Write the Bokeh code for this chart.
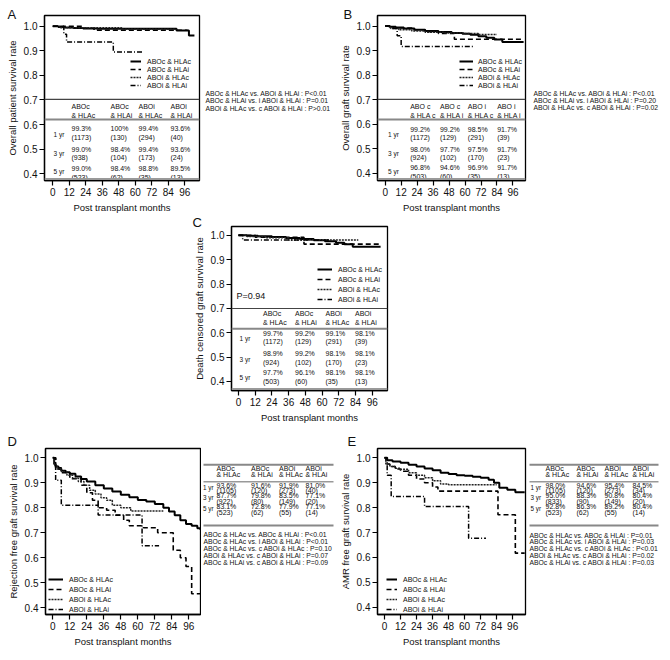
from bokeh.plotting import figure
from bokeh.models import Legend, LegendItem, Range1d, Span, FixedTicker, CustomJSTickFormatter, Label
from bokeh.layouts import row, column
from bokeh.core.properties import value
from bokeh.embed import file_html
from bokeh.resources import INLINE

FONT = "Liberation Sans"

MONTH_TICKS = [0, 12, 24, 36, 48, 60, 72, 84, 96]
SURV_TICKS = [0.4, 0.5, 0.6, 0.7, 0.8, 0.9, 1.0]
GROUP_LABELS = ["ABOc & HLAc", "ABOc & HLAi", "ABOi & HLAc", "ABOi & HLAi"]
X_TITLE = "Post transplant months"
ROW_LABELS = ["1 yr", "3 yr", "5 yr"]
HEAD_1 = ["ABOc", "ABOc", "ABOi", "ABOi"]
HEAD_2 = ["& HLAc", "& HLAi", "& HLAc", "& HLAi"]
HEAD_1_B = ["ABO c", "ABO c", "ABO i", "ABO i"]
HEAD_2_B = ["& HLA c", "& HLA i", "& HLA c", "& HLA i"]

# ---------------- Panel A : overall patient survival ----------------
A_T_CC = [0, 4, 9, 15, 22, 32, 90, 99, 103]
A_S_CC = [1.0, 0.997, 0.995, 0.993, 0.991, 0.990, 0.983, 0.963, 0.963]
A_T_CI = [0, 22, 30, 98]
A_S_CI = [1.0, 0.992, 0.984, 0.984]
A_T_IC = [0, 5, 50, 90]
A_S_IC = [1.0, 0.994, 0.988, 0.988]
A_T_II = [0, 8, 10, 44, 66]
A_S_II = [1.0, 0.968, 0.936, 0.895, 0.895]
A_PCT = [["99.3%", "100%", "99.4%", "93.6%"],
         ["99.0%", "98.4%", "99.4%", "93.6%"],
         ["99.0%", "98.4%", "98.8%", "89.5%"]]
A_N = [["(1173)", "(130)", "(294)", "(40)"],
       ["(938)", "(104)", "(173)", "(24)"],
       ["(523)", "(62)", "(35)", "(13)"]]
A_P = ["ABOc & HLAc vs. ABOi & HLAi : P<0.01",
       "ABOc & HLAi vs. i ABOi & HLAi : P=0.01",
       "ABOi & HLAc vs. c ABOi & HLAi : P>0.01"]

# ---------------- Panel B : overall graft survival ----------------
B_T_CC = [0, 3, 8, 14, 22, 30, 40, 50, 58, 64, 70, 76, 82, 88, 104]
B_S_CC = [1.0, 0.997, 0.994, 0.990, 0.985, 0.980, 0.976, 0.972, 0.968, 0.964, 0.958, 0.952, 0.945, 0.935, 0.935]
B_T_CI = [0, 6, 20, 30, 40, 52, 104]
B_S_CI = [1.0, 0.992, 0.985, 0.977, 0.970, 0.946, 0.946]
B_T_IC = [0, 4, 10, 20, 30, 44, 60, 70, 84]
B_S_IC = [1.0, 0.990, 0.985, 0.980, 0.975, 0.972, 0.969, 0.965, 0.965]
B_T_II = [0, 5, 9, 12, 66]
B_S_II = [1.0, 0.990, 0.960, 0.917, 0.917]
B_PCT = [["99.2%", "99.2%", "98.5%", "91.7%"],
         ["98.0%", "97.7%", "97.5%", "91.7%"],
         ["96.8%", "94.6%", "96.9%", "91.7%"]]
B_N = [["(1172)", "(129)", "(291)", "(39)"],
       ["(924)", "(102)", "(170)", "(23)"],
       ["(503)", "(60)", "(35)", "(13)"]]
B_P = ["ABOc & HLAc vs. ABOi & HLAi : P<0.01",
       "ABOc & HLAi vs. i ABOi & HLAi : P=0.20",
       "ABOi & HLAc vs. c ABOi & HLAi : P=0.02"]

# ---------------- Panel C : death censored graft survival ----------------
C_T_CC = [0, 6, 14, 24, 34, 44, 54, 62, 70, 76, 82, 102]
C_S_CC = [1.0, 0.998, 0.996, 0.993, 0.989, 0.985, 0.980, 0.976, 0.970, 0.963, 0.953, 0.953]
C_T_CI = [0, 12, 47, 102]
C_S_CI = [1.0, 0.992, 0.964, 0.964]
C_T_IC = [0, 6, 20, 36, 86]
C_S_IC = [1.0, 0.995, 0.990, 0.981, 0.981]
C_T_II = [0, 3, 66]
C_S_II = [1.0, 0.981, 0.981]
C_PCT = [["99.7%", "99.2%", "99.1%", "98.1%"],
         ["98.9%", "99.2%", "98.1%", "98.1%"],
         ["97.7%", "96.1%", "98.1%", "98.1%"]]
C_N = [["(1172)", "(129)", "(291)", "(39)"],
       ["(924)", "(102)", "(170)", "(23)"],
       ["(503)", "(60)", "(35)", "(13)"]]
C_P = "P=0.94"

# ---------------- Panel D : rejection free graft survival ----------------
D_T_CC = [0, 1, 2, 4, 6, 9, 12, 16, 20, 24, 30, 36, 42, 48, 54, 60, 66, 72, 78, 82, 86, 90, 94, 98, 102, 104]
D_S_CC = [1.0, 0.975, 0.965, 0.955, 0.948, 0.942, 0.936, 0.925, 0.915, 0.905, 0.890, 0.877, 0.865, 0.852,
          0.842, 0.831, 0.825, 0.815, 0.800, 0.785, 0.770, 0.750, 0.735, 0.728, 0.718, 0.712]
D_T_CI = [0, 2, 6, 12, 20, 24, 28, 32, 38, 44, 50, 54, 64, 74, 85, 90, 94, 98, 104]
D_S_CI = [1.0, 0.960, 0.940, 0.916, 0.890, 0.860, 0.830, 0.800, 0.790, 0.770, 0.750, 0.728, 0.720, 0.700,
          0.630, 0.600, 0.565, 0.456, 0.456]
D_T_IC = [0, 1, 3, 6, 10, 14, 18, 22, 26, 30, 34, 38, 42, 48, 55, 78]
D_S_IC = [1.0, 0.970, 0.955, 0.945, 0.930, 0.918, 0.905, 0.890, 0.870, 0.855, 0.840, 0.830, 0.810, 0.800, 0.787, 0.787]
D_T_II = [0, 2, 6, 32, 63, 75]
D_S_II = [1.0, 0.910, 0.810, 0.771, 0.648, 0.648]
D_PCT = [["93.6%", "91.6%", "91.9%", "81.0%"],
         ["87.7%", "79.8%", "83.5%", "77.1%"],
         ["83.1%", "72.8%", "77.9%", "77.1%"]]
D_N = [["(1105)", "(120)", "(273)", "(40)"],
       ["(922)", "(80)", "(149)", "(20)"],
       ["(523)", "(62)", "(55)", "(14)"]]
D_P = ["ABOc & HLAc vs. ABOc & HLAi : P<0.01",
       "ABOc & HLAc vs. i ABOi & HLAi : P<0.01",
       "ABOc & HLAc vs. c ABOi & HLAc : P=0.10",
       "ABOi & HLAc vs. c ABOi & HLAi : P=0.07",
       "ABOc & HLAi vs. c ABOi & HLAi : P=0.09"]

# ---------------- Panel E : AMR free graft survival ----------------
E_T_CC = [0, 2, 6, 12, 18, 24, 30, 36, 42, 48, 54, 60, 66, 72, 78, 82, 86, 92, 98, 105]
E_S_CC = [1.0, 0.990, 0.985, 0.980, 0.972, 0.965, 0.957, 0.950, 0.940, 0.935, 0.930, 0.928, 0.924, 0.920,
          0.912, 0.900, 0.880, 0.872, 0.862, 0.862]
E_T_CI = [0, 1, 4, 8, 12, 18, 24, 30, 36, 40, 85, 98, 105]
E_S_CI = [1.0, 0.975, 0.965, 0.955, 0.946, 0.930, 0.915, 0.900, 0.883, 0.866, 0.771, 0.617, 0.617]
E_T_IC = [0, 1, 4, 8, 12, 18, 24, 30, 36, 42, 48, 84]
E_S_IC = [1.0, 0.975, 0.965, 0.958, 0.954, 0.940, 0.930, 0.920, 0.908, 0.895, 0.892, 0.892]
E_T_II = [0, 2, 5, 30, 63, 76]
E_S_II = [1.0, 0.930, 0.845, 0.804, 0.677, 0.677]
E_PCT = [["98.0%", "94.6%", "95.4%", "84.5%"],
         ["95.0%", "88.3%", "90.8%", "80.4%"],
         ["92.8%", "86.3%", "89.2%", "80.4%"]]
E_N = [["(1105)", "(120)", "(273)", "(34)"],
       ["(833)", "(90)", "(149)", "(20)"],
       ["(523)", "(62)", "(55)", "(14)"]]
E_P = ["ABOc & HLAc vs. ABOc & HLAi : P=0.01",
       "ABOc & HLAc vs. i ABOi & HLAi : P=0.03",
       "ABOc & HLAc vs. c ABOi & HLAc : P<0.01",
       "ABOi & HLAc vs. c ABOi & HLAi : P=0.02",
       "ABOc & HLAi vs. c ABOi & HLAi : P=0.03"]

STYLES = [dict(line_color="black", line_width=2.0),
          dict(line_color="black", line_width=1.6, line_dash="5 3"),
          dict(line_color="#222222", line_width=1.5, line_dash="2 1"),
          dict(line_color="black", line_width=1.5, line_dash="5 2 1 2")]

TXT = "7px"
PTXT = "6.8px"


class Panel:
    """Geometry in page pixels -> data coordinates."""
    def __init__(self, ox, oy, w, h, fx, fy, fw, fh, x0px, pxm, y1px, pxu):
        self.ox, self.oy, self.w, self.h = ox, oy, w, h
        self.fx, self.fy, self.fw, self.fh = fx, fy, fw, fh
        self.x0px, self.pxm, self.y1px, self.pxu = x0px, pxm, y1px, pxu

    def dx(self, px):
        return (px - self.x0px) / self.pxm

    def dy(self, py):
        return 1.0 - (py - self.y1px) / self.pxu


def txt(p, xs, ys, texts, size=TXT, align="left", baseline="middle", color="#111111"):
    p.text(x=xs, y=ys, text=texts, text_font=value(FONT), text_font_size=value(size),
           text_align=align, text_baseline=baseline, text_color=color)


def make_plot(g, ytitle, series, letter, letter_x, letter_standoff, legend_pos, legend_spacing,
              glyph_w, label_standoff=6):
    p = figure(width=g.w, height=g.h, output_backend="svg", toolbar_location=None,
               x_range=Range1d(g.dx(g.fx), g.dx(g.fx + g.fw)),
               y_range=Range1d(g.dy(g.fy + g.fh), g.dy(g.fy)),
               min_border_left=g.fx - g.ox, min_border_top=g.fy - g.oy,
               min_border_right=g.ox + g.w - g.fx - g.fw,
               min_border_bottom=g.oy + g.h - g.fy - g.fh)
    p.grid.visible = False
    p.outline_line_color = "black"
    p.outline_line_width = 1.3
    p.background_fill_color = "white"
    p.border_fill_color = "white"
    p.xaxis.ticker = FixedTicker(ticks=MONTH_TICKS)
    p.yaxis.ticker = FixedTicker(ticks=SURV_TICKS)
    p.yaxis.formatter = CustomJSTickFormatter(code="return tick.toFixed(1);")
    for ax in (p.xaxis[0], p.yaxis[0]):
        ax.axis_line_color = "black"
        ax.axis_line_width = 1.3
        ax.major_tick_line_color = "black"
        ax.major_tick_line_width = 1.2
        ax.major_tick_out = 5
        ax.major_tick_in = 0
        ax.minor_tick_line_color = None
        ax.major_label_text_font = FONT
        ax.major_label_text_font_size = "10px"
        ax.major_label_text_color = "#111111"
        ax.major_label_standoff = 2
        ax.axis_label_text_font = FONT
        ax.axis_label_text_font_size = "9.5px"
        ax.axis_label_text_font_style = "normal"
        ax.axis_label_text_color = "#111111"
        ax.axis_label_standoff = 3
    p.xaxis.axis_label = X_TITLE
    p.yaxis.axis_label = ytitle

    # panel letter
    p.title.text = letter
    p.title.align = "left"
    p.title.offset = letter_x - g.fx
    p.title.vertical_align = "bottom"
    p.title.standoff = letter_standoff
    p.title.text_font = FONT
    p.title.text_font_size = "13px"
    p.title.text_font_style = "normal"
    p.title.text_color = "#111111"

    items = []
    for (t, s), lab, st in zip(series, GROUP_LABELS, STYLES):
        r = p.step(t, s, mode="after", **st)
        items.append(LegendItem(label=lab, renderers=[r]))
    leg = Legend(items=items, location=legend_pos, padding=0, margin=0,
                 spacing=legend_spacing, label_height=8, glyph_height=8, glyph_width=glyph_w,
                 label_standoff=label_standoff, label_text_font=FONT, label_text_font_size=TXT,
                 label_text_color="#111111", background_fill_alpha=0, border_line_alpha=0)
    p.add_layout(leg)
    return p


def inframe_table(p, g, head1, head2, pct, n, col_x, row_x, head_y, line_y, pct_y, n_y, rowlab_y, bottom_y):
    p.add_layout(Span(location=g.dy(line_y[0]), dimension="width", line_color="#444444", line_width=1.2))
    p.add_layout(Span(location=g.dy(line_y[1]), dimension="width", line_color="#888888", line_width=2.0))
    p.add_layout(Span(location=g.dy(bottom_y), dimension="width", line_color="#999999", line_width=2.0))
    xs, ys, tx = [], [], []
    for j in range(4):
        xs += [g.dx(col_x[j]), g.dx(col_x[j])]
        ys += [g.dy(head_y[0]), g.dy(head_y[1])]
        tx += [head1[j], head2[j]]
        for i in range(3):
            xs += [g.dx(col_x[j]), g.dx(col_x[j])]
            ys += [g.dy(pct_y[i]), g.dy(n_y[i])]
            tx += [pct[i][j], n[i][j]]
    txt(p, xs, ys, tx)
    txt(p, [g.dx(row_x)] * 3, [g.dy(v) for v in rowlab_y], ROW_LABELS, size="6.5px")


def side_fig(ox, oy, w, h):
    s = figure(width=w, height=h, output_backend="svg", toolbar_location=None,
               x_range=Range1d(ox, ox + w), y_range=Range1d(oy + h, oy),
               x_axis_type=None, y_axis_type=None,
               min_border_left=0, min_border_right=0, min_border_top=0, min_border_bottom=0)
    s.grid.visible = False
    s.outline_line_color = None
    s.background_fill_color = "white"
    s.border_fill_color = "white"
    return s


def side_table(s, pct, n, col_x, row_x, x0, x1, pvals, p_x, p_y):
    s.segment(x0=[x0, x0, x0], y0=[448, 472, 534], x1=[x1, x1, x1], y1=[448, 472, 534],
              line_color=["#888888", "#999999", "#888888"], line_width=[2.0, 1.5, 2.0])
    xs, ys, tx = [], [], []
    for j in range(4):
        xs += [col_x[j], col_x[j]]
        ys += [453.5, 462]
        tx += [HEAD_1[j], HEAD_2[j]]
        for i in range(3):
            xs += [col_x[j], col_x[j]]
            ys += [477 + 15 * i, 485 + 15 * i]
            tx += [pct[i][j], n[i][j]]
    txt(s, xs, ys, tx)
    txt(s, [row_x] * 3, [480, 495, 510], ROW_LABELS, size="6.3px")
    txt(s, [p_x] * len(pvals), p_y, pvals, size=PTXT)


# ---------------- Row 1 ----------------
gA = Panel(0, 0, 201, 215, 44, 15, 155, 168, 52.3, 1.375, 26.0, 250.0)
pA = make_plot(gA, "Overall patient survival rate",
               [(A_T_CC, A_S_CC), (A_T_CI, A_S_CI), (A_T_IC, A_S_IC), (A_T_II, A_S_II)],
               "A", 7, -12, (86, 91), 0, 11)
inframe_table(pA, gA, HEAD_1, HEAD_2, A_PCT, A_N, [71, 110, 138, 170], 53,
              (107.5, 116.5), (100.5, 121), (130.5, 151, 170.5), (139.5, 160, 180), (136, 155.5, 174), 181.5)
sA = side_fig(201, 0, 135, 215)
txt(sA, [205] * 3, [101, 111, 121], A_P, size=PTXT)

gB = Panel(336, 0, 191, 215, 371, 15, 154, 168, 379.0, 1.385, 25.7, 250.0)
pB = make_plot(gB, "Overall graft survival rate",
               [(B_T_CC, B_S_CC), (B_T_CI, B_S_CI), (B_T_IC, B_S_IC), (B_T_II, B_S_II)],
               "B", 337, -12, (82, 91), 0, 14, 5)
inframe_table(pB, gB, HEAD_1_B, HEAD_2_B, B_PCT, B_N, [405, 436, 465, 495.5], 382,
              (107.5, 116.5), (100.5, 121), (131, 151, 170), (139.5, 159.5, 179), (136, 155.5, 174), 181.5)
sB = side_fig(527, 0, 143, 215)
txt(sB, [533] * 3, [101, 110.5, 120], B_P, size=PTXT)

# ---------------- Row 2 ----------------
gC = Panel(0, 215, 408, 210, 231, 226, 156, 167, 238.0, 1.393, 235.0, 248.0)
pC = make_plot(gC, "Death censored graft survival rate",
               [(C_T_CC, C_S_CC), (C_T_CI, C_S_CI), (C_T_IC, C_S_IC), (C_T_II, C_S_II)],
               "C", 192, -6, (86, 87), 2, 15)
inframe_table(pC, gC, HEAD_1, HEAD_2, C_PCT, C_N, [262.5, 294.5, 325, 354.5], 239,
              (315, 324), (309.5, 330), (335, 355.5, 375), (343.5, 364.5, 383.5), (340, 361, 380), 391.5)
pC.add_layout(Label(x=gC.dx(236), y=gC.dy(297), text=C_P, text_font=FONT, text_font_size="9px",
                    text_baseline="middle", text_color="#111111"))

# ---------------- Row 3 ----------------
gD = Panel(0, 425, 201, 235, 45, 448, 155, 166, 52.3, 1.417, 457.3, 250.0)
pD = make_plot(gD, "Rejection free graft survival rate",
               [(D_T_CC, D_S_CC), (D_T_CI, D_S_CI), (D_T_IC, D_S_IC), (D_T_II, D_S_II)],
               "D", 7, 0, (3, 1), 2, 15)
sD = side_fig(201, 425, 135, 235)
side_table(sD, D_PCT, D_N, [216, 250.5, 278.5, 305], 202.5, 203, 333, D_P, 203, [547, 556.5, 567, 577, 586])

gE = Panel(336, 425, 191, 235, 371, 448, 154, 166, 378.3, 1.389, 457.3, 249.0)
pE = make_plot(gE, "AMR free graft survival rate",
               [(E_T_CC, E_S_CC), (E_T_CI, E_S_CI), (E_T_IC, E_S_IC), (E_T_II, E_S_II)],
               "E", 341, 0, (9, 1), 2, 11)
sE = side_fig(527, 425, 143, 235)
side_table(sE, E_PCT, E_N, [545, 576, 604, 632], 530, 529, 658, E_P, 529, [548, 557, 567, 577, 586])

layout = column(row(pA, sA, pB, sB), pC, row(pD, sD, pE, sE))
open("out.html", "w").write(file_html(layout, INLINE))
